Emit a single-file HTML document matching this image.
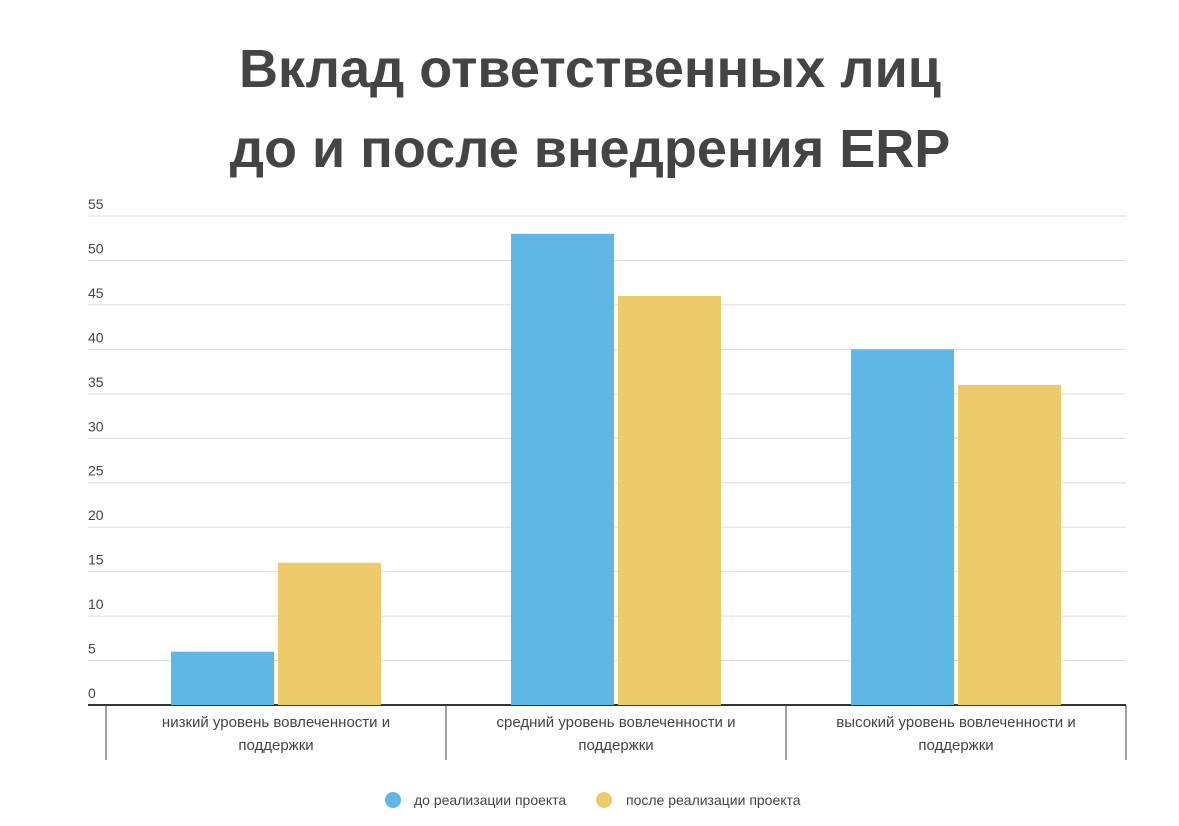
<!DOCTYPE html>
<html><head><meta charset="utf-8"><style>
body{margin:0;background:#fff;font-family:"Liberation Sans",sans-serif;}
</style></head><body>
<svg width="1179" height="821" xmlns="http://www.w3.org/2000/svg">
<g font-family="Liberation Sans, sans-serif" font-weight="bold" font-size="54" fill="#444" text-anchor="middle">
<text x="590" y="87">Вклад ответственных лиц</text>
<text x="590" y="167">до и после внедрения ERP</text>
</g>
<g id="grid"></g>
<g id="bars"></g>
<g id="xaxis"></g>
<g font-family="Liberation Sans, sans-serif" font-size="14" fill="#444">
<circle cx="393" cy="800" r="8" fill="#5fb7e5"/>
<text x="414" y="805">до реализации проекта</text>
<circle cx="604" cy="800" r="8" fill="#eecb6a"/>
<text x="626" y="805">после реализации проекта</text>
</g>
</svg>
<script>
const categories=[["низкий уровень вовлеченности и","поддержки"],["средний уровень вовлеченности и","поддержки"],["высокий уровень вовлеченности и","поддержки"]];
const before=[6,53,40];
const after=[16,46,36];
const ticks=[0,5,10,15,20,25,30,35,40,45,50,55];
const NS="http://www.w3.org/2000/svg";
const x0=106,x1=1126,y0=705,yTop=216,maxV=55;
const y=v=>y0-(v/maxV)*(y0-yTop);
const gw=(x1-x0)/categories.length;
const bandX=i=>x0+gw*i;
function mk(tag,attrs,parent){const e=document.createElementNS(NS,tag);for(const k in attrs)e.setAttribute(k,attrs[k]);parent.appendChild(e);return e;}
const grid=document.getElementById('grid');
ticks.forEach(t=>{
 const l=mk('line',{x1:88,x2:x1,y1:y(t),y2:y(t),stroke:t===0?'#333':'#dcdcdc','stroke-width':t===0?2:1},grid);
 
 
 const tx=mk('text',{x:88,y:y(t)-7,'font-size':14,fill:'#444','font-family':'Liberation Sans, sans-serif'},grid);
 tx.textContent=t;
 
 
});
const bars=document.getElementById('bars');
const bw=103,gap=4;
categories.forEach((c,i)=>{
 const cx=bandX(i)+gw/2;
 const b=mk('rect',{x:cx-gap/2-bw,y:y(before[i]),width:bw,height:y0-y(before[i]),fill:'#5fb7e5'},bars);
 
 
 const a=mk('rect',{x:cx+gap/2,y:y(after[i]),width:bw,height:y0-y(after[i]),fill:'#eecb6a'},bars);
 
 
});
const xa=document.getElementById('xaxis');
for(let i=0;i<=categories.length;i++){
 const t=mk('line',{x1:bandX(i),x2:bandX(i),y1:y0,y2:760,stroke:'#444','stroke-width':1},xa);
 
 
}
categories.forEach((c,i)=>{
 const cx=bandX(i)+gw/2;
 c.forEach((line,j)=>{
  const t=mk('text',{x:cx,y:727+j*23,'font-size':15,fill:'#444','text-anchor':'middle','font-family':'Liberation Sans, sans-serif'},xa);
  t.textContent=line;
  
  
 });
});
</script>
</body></html>
